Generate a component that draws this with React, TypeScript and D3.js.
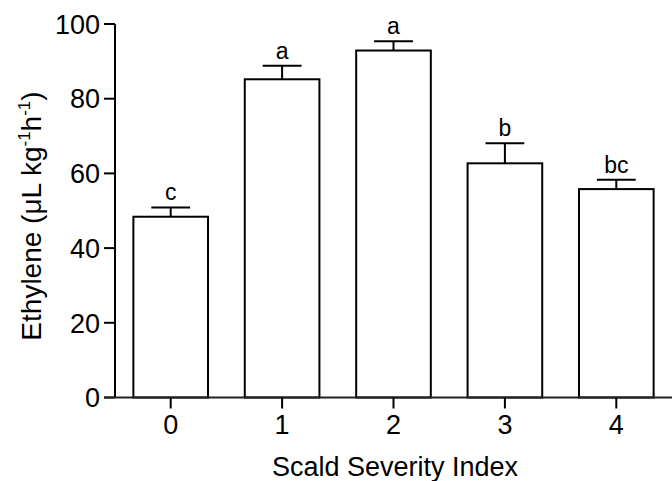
import React from "react";
import * as d3 from "d3";

// Scald severity index vs ethylene production
const categories = ["0", "1", "2", "3", "4"];
const means = [48.4, 85.2, 92.9, 62.7, 55.8];
const errors = [2.5, 3.6, 2.5, 5.4, 2.5];
const letters = ["c", "a", "a", "b", "bc"];
const yTicks = [0, 20, 40, 60, 80, 100];

const width = 672;
const height = 481;
const margin = { top: 24, right: 0, bottom: 83.5, left: 115 };
const font = "Arial, 'Liberation Sans', Helvetica, sans-serif";

const App: React.FC = () => {
  const x = d3
    .scaleBand<string>()
    .domain(categories)
    .range([margin.left, width - margin.right])
    .paddingInner(0.33)
    .paddingOuter(0.165);

  const y = d3
    .scaleLinear()
    .domain([0, 100])
    .range([height - margin.bottom, margin.top]);

  const bw = x.bandwidth();
  const capW = bw * 0.52;
  const y0 = y(0);

  return (
    <svg
      width={width}
      height={height}
      style={{ position: "absolute", left: 0, top: 0, background: "#fff" }}
      fontFamily={font}
    >
      {/* bars */}
      {categories.map((c, i) => {
        const cx = (x(c) as number) + bw / 2;
        const top = y(means[i]);
        const capY = y(means[i] + errors[i]);
        return (
          <g key={c}>
            <line x1={cx} x2={cx} y1={top} y2={capY} stroke="#000" strokeWidth={2} />
            <line
              x1={cx - capW / 2}
              x2={cx + capW / 2}
              y1={capY}
              y2={capY}
              stroke="#000"
              strokeWidth={2}
            />
            <rect
              x={x(c)}
              y={top}
              width={bw}
              height={y0 - top}
              fill="#fff"
              stroke="#000"
              strokeWidth={2}
            />
            <text x={cx} y={capY - 7} textAnchor="middle" fontSize={23}>
              {letters[i]}
            </text>
          </g>
        );
      })}

      {/* y axis */}
      <line x1={margin.left} x2={margin.left} y1={y(100)} y2={y0} stroke="#000" strokeWidth={2} />
      {yTicks.map((t) => (
        <g key={t}>
          <line x1={margin.left - 11} x2={margin.left} y1={y(t)} y2={y(t)} stroke="#000" strokeWidth={2} />
          <text
            x={margin.left - 15}
            y={y(t)}
            dy="0.36em"
            textAnchor="end"
            fontSize={27}
          >
            {t}
          </text>
        </g>
      ))}

      {/* x axis */}
      <line x1={margin.left - 11} x2={width} y1={y0} y2={y0} stroke="#222" strokeWidth={2} />
      {categories.map((c) => {
        const cx = (x(c) as number) + bw / 2;
        return (
          <g key={c}>
            <line x1={cx} x2={cx} y1={y0} y2={y0 + 11} stroke="#000" strokeWidth={2} />
            <text x={cx} y={434} textAnchor="middle" fontSize={27}>
              {c}
            </text>
          </g>
        );
      })}

      {/* axis titles */}
      <text x={395} y={476} textAnchor="middle" fontSize={27}>
        Scald Severity Index
      </text>
      <text
        transform={`translate(41, 216) rotate(-90)`}
        textAnchor="middle"
        fontSize={28}
      >
        Ethylene (μL kg
        <tspan fontSize={17} dy={-11}>-1</tspan>
        <tspan dy={11}>h</tspan>
        <tspan fontSize={17} dy={-11}>-1</tspan>
        <tspan dy={11}>)</tspan>
      </text>
    </svg>
  );
};

export default App;
